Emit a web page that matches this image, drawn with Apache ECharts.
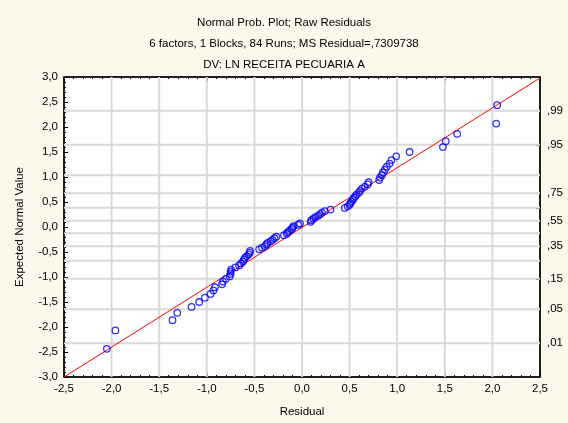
<!DOCTYPE html>
<html>
<head>
<meta charset="utf-8">
<script src="https://cdn.jsdelivr.net/npm/echarts@6/dist/echarts.min.js"></script>
<style>
  html, body { margin: 0; padding: 0; background: #fdf8ec; }
  #chart { width: 568px; height: 423px; }
</style>
</head>
<body>
<div id="chart"></div>
<script>
// raw residuals, sorted (x)
var residuals = [
  -2.05, -1.96, -1.36, -1.31, -1.16, -1.08, -1.02, -0.96, -0.93, -0.915,
  -0.84, -0.83, -0.80, -0.76, -0.75, -0.75, -0.745, -0.70, -0.66, -0.64,
  -0.62, -0.61, -0.60, -0.58, -0.56, -0.55, -0.545, -0.45, -0.42, -0.39,
  -0.375, -0.36, -0.33, -0.31, -0.29, -0.27, -0.19, -0.16, -0.15, -0.13,
  -0.11, -0.10, -0.09, -0.04, -0.02, 0.09, 0.10, 0.12, 0.14, 0.17,
  0.19, 0.21, 0.24, 0.30, 0.45, 0.48, 0.50, 0.51, 0.52, 0.535,
  0.545, 0.56, 0.575, 0.60, 0.61, 0.63, 0.66, 0.69, 0.70, 0.81,
  0.82, 0.84, 0.85, 0.87, 0.89, 0.92, 0.94, 0.99, 1.13, 1.48,
  1.51, 1.63, 2.04, 2.05
];
// expected normal values (y)
var expected = [
  -2.436, -2.069, -1.864, -1.716, -1.599, -1.500, -1.414, -1.338, -1.268, -1.205,
  -1.145, -1.090, -1.037, -0.988, -0.940, -0.895, -0.851, -0.809, -0.768, -0.729,
  -0.691, -0.654, -0.617, -0.582, -0.547, -0.513, -0.479, -0.446, -0.413, -0.381,
  -0.349, -0.318, -0.287, -0.256, -0.225, -0.195, -0.165, -0.135, -0.104, -0.074,
  -0.045, -0.015, 0.015, 0.045, 0.074, 0.104, 0.135, 0.165, 0.195, 0.225,
  0.256, 0.287, 0.318, 0.349, 0.381, 0.413, 0.446, 0.479, 0.513, 0.547,
  0.582, 0.617, 0.654, 0.691, 0.729, 0.768, 0.809, 0.851, 0.895, 0.940,
  0.988, 1.037, 1.090, 1.145, 1.205, 1.268, 1.338, 1.414, 1.500, 1.599,
  1.716, 1.864, 2.069, 2.436
];
// fitted line end points
var fitLine = [[-2.5, -3.0], [2.5, 2.98]];
// right axis: probability labels and their z positions
var probLabels = [',01', ',05', ',15', ',35', ',55', ',75', ',95', ',99'];
var probZ = [-2.326, -1.645, -1.036, -0.385, 0.126, 0.674, 1.645, 2.326];
// horizontal grid lines (probabilities .01 ... .99)
var gridZ = [-2.326, -1.645, -1.036, -0.674, -0.385, -0.126, 0.126, 0.385, 0.674, 1.036, 1.645, 2.326];
var gridX = [-2.0, -1.5, -1.0, -0.5, 0.0, 0.5, 1.0, 1.5, 2.0];

var pts = residuals.map(function (r, i) { return [r, expected[i]]; });
var comma = function (v) { return v.toFixed(1).replace('.', ','); };
var font = 'Liberation Sans';
var gridColor = '#d9d9d9';

// grid lines as plain line series (null breaks between segments)
var gridSeg = [];
gridZ.forEach(function (z) { gridSeg.push([-2.5, z], [2.5, z], null); });
gridX.forEach(function (x) { gridSeg.push([x, -3], [x, 3], null); });

var tickStyle = { show: true, inside: true, length: 4, lineStyle: { color: '#000', width: 1 } };
var minorStyle = { show: true, splitNumber: 5, length: 2, lineStyle: { color: '#000', width: 1 } };

var chart = echarts.init(document.getElementById('chart'), null, { renderer: 'canvas' });
chart.setOption({
  backgroundColor: '#fdf8ec',
  animation: false,
  title: {
    text: 'Normal Prob. Plot; Raw Residuals\n6 factors, 1 Blocks, 84 Runs; MS Residual=,7309738\nDV: LN RECEITA PECUARIA A',
    left: 'center',
    top: 7,
    textStyle: { fontFamily: font, fontSize: 11.5, fontWeight: 'normal', color: '#000', lineHeight: 21 }
  },
  grid: {
    left: 64, right: 28, top: 77, bottom: 46,
    show: true, backgroundColor: '#ffffff', borderColor: '#000', borderWidth: 1
  },
  xAxis: [{
    type: 'value', min: -2.5, max: 2.5, interval: 0.5,
    name: 'Residual', nameLocation: 'middle', nameGap: 29,
    nameTextStyle: { fontFamily: font, fontSize: 11.5, color: '#000' },
    axisLine: { onZero: false, lineStyle: { color: '#000', width: 1.5 } },
    axisTick: tickStyle, minorTick: minorStyle,
    axisLabel: { formatter: comma, fontFamily: font, fontSize: 11.5, color: '#000', margin: 6 },
    splitLine: { show: false }
  }, {
    type: 'value', min: -2.5, max: 2.5, interval: 0.5, position: 'top',
    axisLine: { onZero: false, lineStyle: { color: '#000', width: 1.5 } },
    axisTick: tickStyle, minorTick: minorStyle,
    axisLabel: { show: false },
    splitLine: { show: false }
  }],
  yAxis: [{
    type: 'value', min: -3, max: 3, interval: 0.5,
    name: 'Expected Normal Value', nameLocation: 'middle', nameGap: 38,
    nameTextStyle: { fontFamily: font, fontSize: 11.5, color: '#000' },
    axisLine: { onZero: false, lineStyle: { color: '#000', width: 1.5 } },
    axisTick: tickStyle, minorTick: minorStyle,
    axisLabel: { formatter: comma, fontFamily: font, fontSize: 11.5, color: '#000', margin: 6 },
    splitLine: { show: false }
  }, {
    type: 'value', min: -3, max: 3, position: 'right',
    axisLine: { onZero: false, lineStyle: { color: '#000', width: 1.5 } },
    axisTick: { show: true, inside: true, length: 4, customValues: gridZ, lineStyle: { color: '#000', width: 1 } },
    axisLabel: {
      customValues: probZ,
      formatter: function (v) {
        var best = 0;
        probZ.forEach(function (z, i) { if (Math.abs(z - v) < Math.abs(probZ[best] - v)) best = i; });
        return probLabels[best];
      },
      fontFamily: font, fontSize: 11.5, color: '#000', margin: 7
    },
    splitLine: { show: false }
  }],
  series: [{
    type: 'line', data: gridSeg, z: 1, symbol: 'none', silent: true,
    connectNulls: false,
    lineStyle: { color: gridColor, width: 2 }
  }, {
    type: 'line', data: fitLine, symbol: 'none', z: 3,
    lineStyle: { color: '#ff0000', width: 1 }
  }, {
    type: 'scatter', data: pts, z: 4,
    symbol: 'circle', symbolSize: 6.5,
    itemStyle: { color: 'rgba(255,255,255,0)', borderColor: '#0000ff', borderWidth: 1.3 }
  }]
});
</script>
</body>
</html>
